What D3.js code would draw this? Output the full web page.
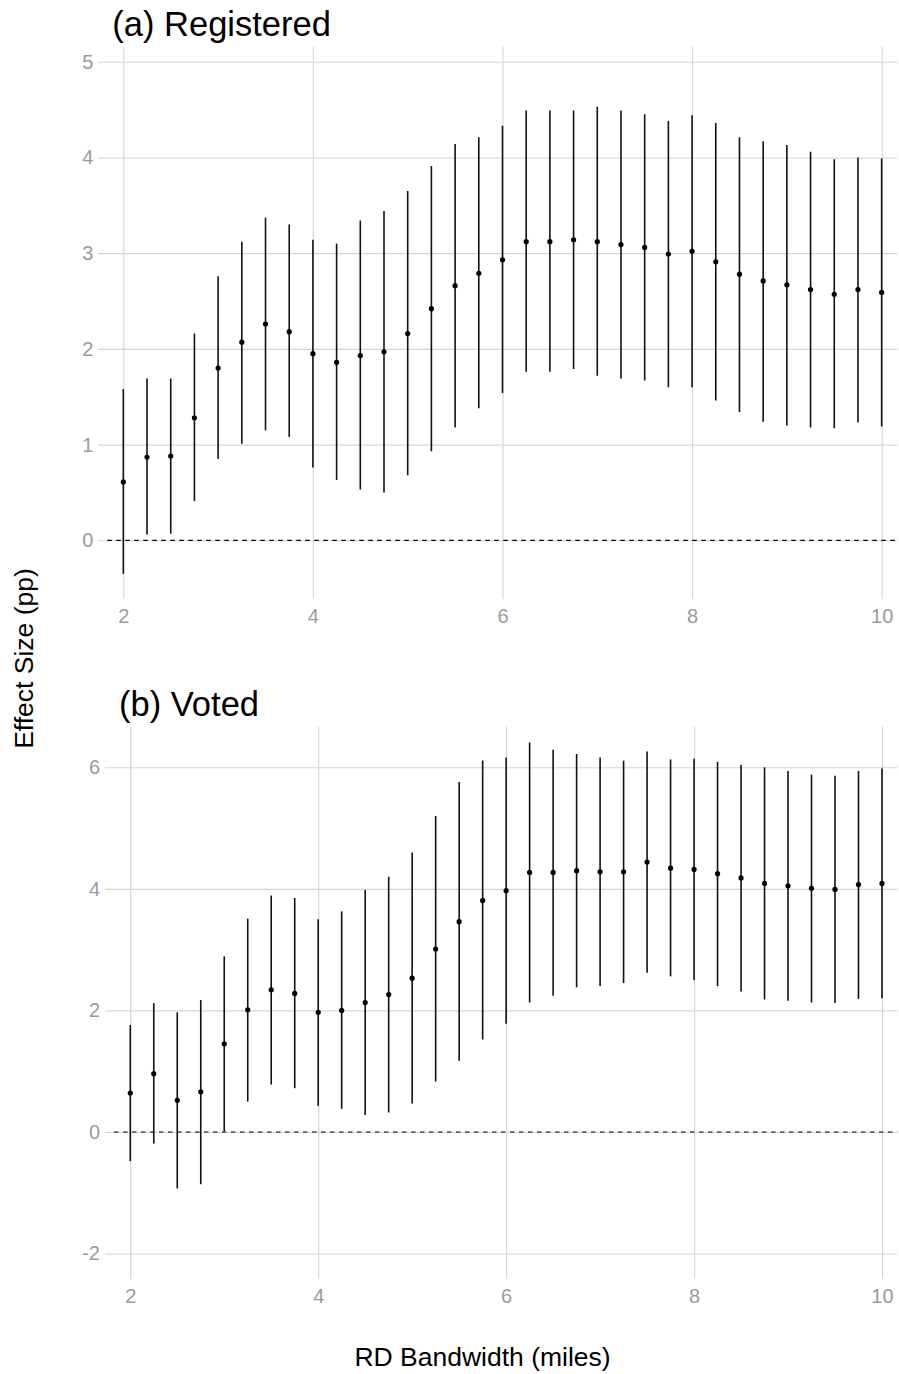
<!DOCTYPE html>
<html>
<head>
<meta charset="utf-8">
<script src="https://cdn.jsdelivr.net/npm/d3@7"></script>
<style>
  html, body { margin: 0; padding: 0; background: #fff; }
  svg { display: block; }
  text { font-family: "Liberation Sans", Arial, sans-serif; }
</style>
</head>
<body>
<div id="chart"></div>
<script>
// ---------- data ----------
const bandwidth = [2, 2.25, 2.5, 2.75, 3, 3.25, 3.5, 3.75, 4, 4.25, 4.5, 4.75, 5, 5.25, 5.5, 5.75,
  6, 6.25, 6.5, 6.75, 7, 7.25, 7.5, 7.75, 8, 8.25, 8.5, 8.75, 9, 9.25, 9.5, 9.75, 10];

const regEst = [0.61, 0.87, 0.88, 1.28, 1.80, 2.07, 2.26, 2.18, 1.95, 1.86, 1.93, 1.97, 2.16, 2.42,
  2.66, 2.79, 2.93, 3.12, 3.12, 3.14, 3.12, 3.09, 3.06, 2.99, 3.02, 2.91, 2.78, 2.71, 2.67, 2.62, 2.57, 2.62, 2.59];
const regLo = [-0.35, 0.06, 0.07, 0.41, 0.85, 1.01, 1.15, 1.08, 0.76, 0.63, 0.53, 0.50, 0.68, 0.93,
  1.18, 1.38, 1.54, 1.76, 1.76, 1.79, 1.72, 1.69, 1.67, 1.60, 1.60, 1.46, 1.34, 1.24, 1.20, 1.18, 1.17, 1.23, 1.19];
const regHi = [1.58, 1.69, 1.69, 2.16, 2.76, 3.12, 3.37, 3.30, 3.14, 3.10, 3.34, 3.44, 3.65, 3.91,
  4.14, 4.21, 4.33, 4.49, 4.49, 4.49, 4.53, 4.49, 4.45, 4.38, 4.44, 4.36, 4.21, 4.17, 4.13, 4.06, 3.98, 4.00, 3.99];

const votEst = [0.64, 0.96, 0.52, 0.66, 1.45, 2.01, 2.34, 2.28, 1.97, 2.00, 2.13, 2.26, 2.53, 3.01,
  3.46, 3.81, 3.97, 4.27, 4.27, 4.30, 4.28, 4.28, 4.44, 4.34, 4.32, 4.25, 4.18, 4.09, 4.05, 4.01, 3.99, 4.07, 4.09];
const votLo = [-0.48, -0.19, -0.93, -0.86, 0.01, 0.50, 0.78, 0.72, 0.43, 0.38, 0.28, 0.32, 0.47, 0.83,
  1.17, 1.52, 1.78, 2.13, 2.24, 2.38, 2.40, 2.45, 2.62, 2.56, 2.50, 2.40, 2.31, 2.18, 2.16, 2.13, 2.12, 2.19, 2.20];
const votHi = [1.76, 2.12, 1.97, 2.17, 2.89, 3.51, 3.89, 3.85, 3.50, 3.63, 3.98, 4.20, 4.60, 5.20,
  5.76, 6.11, 6.16, 6.41, 6.29, 6.22, 6.16, 6.11, 6.26, 6.13, 6.14, 6.09, 6.04, 6.00, 5.94, 5.88, 5.86, 5.94, 5.98];

const xTicks = [2, 4, 6, 8, 10];
const regYTicks = [0, 1, 2, 3, 4, 5];
const votYTicks = [-2, 0, 2, 4, 6];

const panelTitles = ["(a) Registered", "(b) Voted"];
const xTitle = "RD Bandwidth (miles)";
const yTitle = "Effect Size (pp)";

// ---------- layout ----------
const W = 899, H = 1374;
const svg = d3.select("#chart").append("svg")
  .attr("width", W).attr("height", H);

const gridCol = "#d4d4d4";
const tickCol = "#9a9a9a";

const panels = [
  { title: panelTitles[0], est: regEst, lo: regLo, hi: regHi, yTicks: regYTicks,
    left: 98.3, right: 897.3, top: 46.7, bottom: 599,
    xDom: [1.736, 10.165], yDom: [-0.613, 5.157], titleBase: 36 },
  { title: panelTitles[1], est: votEst, lo: votLo, hi: votHi, yTicks: votYTicks,
    left: 105, right: 897.3, top: 726.7, bottom: 1279,
    xDom: [1.731, 10.163], yDom: [-2.419, 6.668], titleBase: 716 }
];

panels.forEach(p => {
  const x = d3.scaleLinear().domain(p.xDom).range([p.left, p.right]);
  const y = d3.scaleLinear().domain(p.yDom).range([p.bottom, p.top]);
  const g = svg.append("g");

  // grid (horizontal)
  const yAxis = d3.axisLeft(y).tickValues(p.yTicks).tickSize(-(p.right - p.left)).tickPadding(5)
    .tickFormat(d => d < 0 ? "-" + Math.abs(d) : String(d));
  const ya = g.append("g").attr("transform", `translate(${p.left},0)`).call(yAxis);
  ya.select(".domain").remove();
  ya.selectAll(".tick line").attr("stroke", gridCol).attr("stroke-width", 1.1);
  ya.selectAll(".tick text").attr("fill", tickCol).attr("font-size", 20)
    .attr("font-family", "'Liberation Sans', Arial, sans-serif");

  // grid (vertical)
  const xAxis = d3.axisBottom(x).tickValues(xTicks).tickSize(-(p.bottom - p.top)).tickPadding(10);
  const xa = g.append("g").attr("transform", `translate(0,${p.bottom})`).call(xAxis);
  xa.select(".domain").remove();
  xa.selectAll(".tick line").attr("stroke", gridCol).attr("stroke-width", 1.1);
  xa.selectAll(".tick text").attr("fill", tickCol).attr("font-size", 20)
    .attr("font-family", "'Liberation Sans', Arial, sans-serif");

  // zero reference line
  g.append("line")
    .attr("x1", p.left + 9).attr("x2", p.right)
    .attr("y1", y(0)).attr("y2", y(0))
    .attr("stroke", "#000").attr("stroke-width", 1.2)
    .attr("stroke-dasharray", "4.5,4.5");

  // error bars
  g.selectAll(".bar").data(bandwidth).enter().append("line")
    .attr("x1", d => x(d)).attr("x2", d => x(d))
    .attr("y1", (d, i) => y(p.lo[i])).attr("y2", (d, i) => y(p.hi[i]))
    .attr("stroke", "#111").attr("stroke-width", 1.6);

  // points
  g.selectAll(".pt").data(bandwidth).enter().append("circle")
    .attr("cx", d => x(d)).attr("cy", (d, i) => y(p.est[i]))
    .attr("r", 2.6).attr("fill", "#000");

  // panel title
  svg.append("text")
    .attr("x", p.left + 14).attr("y", p.titleBase)
    .attr("font-size", 34.5).attr("fill", "#000")
    .text(p.title);
});

// axis titles
svg.append("text")
  .attr("x", 482.5).attr("y", 1366)
  .attr("text-anchor", "middle")
  .attr("font-size", 26.5).attr("fill", "#000")
  .text(xTitle);

svg.append("text")
  .attr("transform", "translate(33,658.5) rotate(-90)")
  .attr("text-anchor", "middle")
  .attr("font-size", 26.5).attr("fill", "#000")
  .text(yTitle);
</script>
</body>
</html>
